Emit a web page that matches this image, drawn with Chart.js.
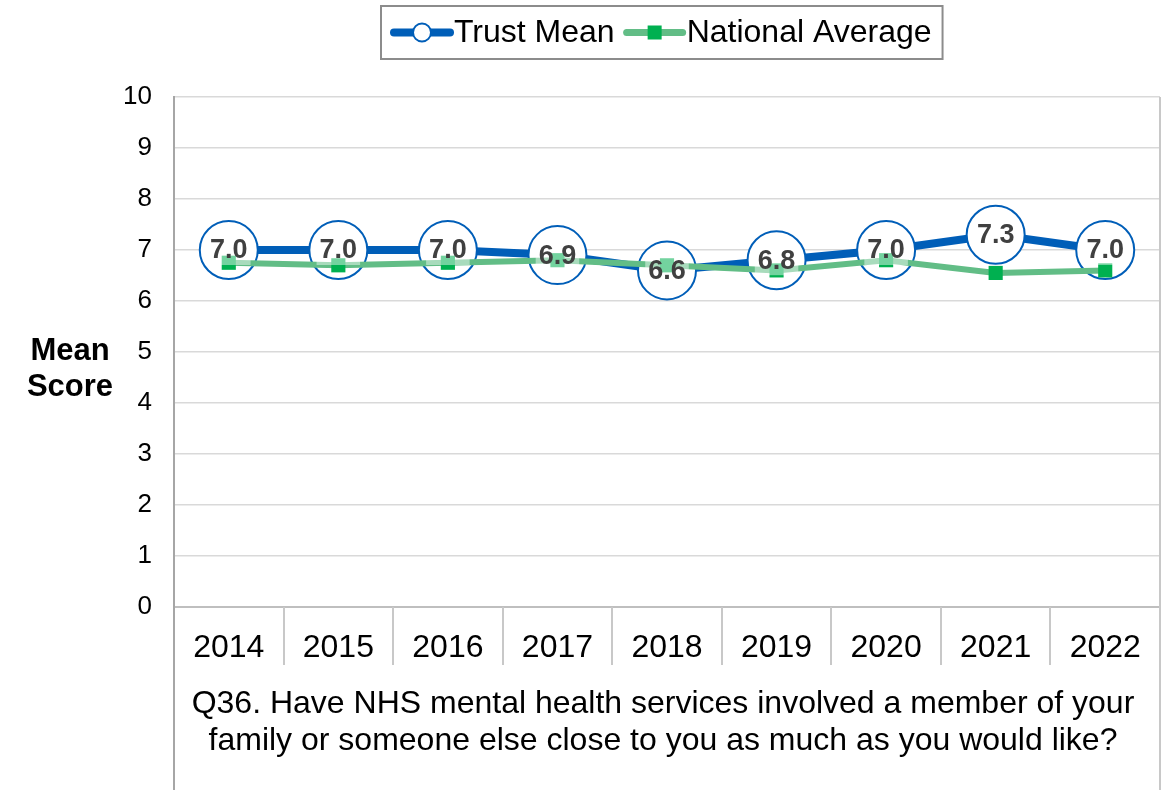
<!DOCTYPE html>
<html>
<head>
<meta charset="utf-8">
<script src="https://cdn.jsdelivr.net/npm/chart.js@4.4.0/dist/chart.umd.min.js"></script>
<style>
  html, body { margin: 0; padding: 0; background: #ffffff; }
  canvas { display: block; }
</style>
</head>
<body>
<canvas id="chart" width="1164" height="790"></canvas>
<script>
// Survey years and mean scores
const years = ['2014', '2015', '2016', '2017', '2018', '2019', '2020', '2021', '2022'];
const trustMean = [7.0, 7.0, 7.0, 6.9, 6.6, 6.8, 7.0, 7.3, 7.0];
const nationalAverage = [6.75, 6.7, 6.75, 6.8, 6.7, 6.6, 6.8, 6.55, 6.6];
const yTickValues = [0, 1, 2, 3, 4, 5, 6, 7, 8, 9, 10];

const seriesNames = ['Trust Mean', 'National Average'];
const yAxisTitle = ['Mean', 'Score'];
const questionText = [
  'Q36. Have NHS mental health services involved a member of your',
  'family or someone else close to you as much as you would like?'
];

const FONT = '"Liberation Sans", Arial, Helvetica, sans-serif';
const BLUE = '#005EB8';
const GREEN_LINE = '#62BD86';
const GREEN_MARK = '#00B050';
const GRID = '#D9D9D9';
const AXIS = '#A6A6A6';

// Axis frame: left/right rules running to the bottom edge, category separators
const framePlugin = {
  id: 'frame',
  beforeDatasetsDraw(chart) {
    const { ctx, chartArea: a, scales: { x } } = chart;
    const H = chart.height;
    ctx.save();
    // category separators below the baseline
    ctx.strokeStyle = '#C8C8C8';
    ctx.lineWidth = 2;
    const step = x.getPixelForValue(1) - x.getPixelForValue(0);
    for (let i = 1; i < years.length; i++) {
      const px = Math.round(x.getPixelForValue(i) - step / 2);
      ctx.beginPath();
      ctx.moveTo(px, a.bottom);
      ctx.lineTo(px, a.bottom + 58);
      ctx.stroke();
    }
    // right border
    ctx.strokeStyle = '#C8C8C8';
    ctx.beginPath();
    ctx.moveTo(a.right, a.top);
    ctx.lineTo(a.right, H);
    ctx.stroke();
    // left axis continued down
    ctx.strokeStyle = AXIS;
    ctx.lineWidth = 2;
    ctx.beginPath();
    ctx.moveTo(a.left, a.top);
    ctx.lineTo(a.left, H);
    ctx.stroke();
    ctx.restore();
  }
};

// Value labels for the Trust Mean series
const valueLabelPlugin = {
  id: 'valueLabels',
  afterDatasetsDraw(chart) {
    const { ctx } = chart;
    const meta = chart.getDatasetMeta(0);
    ctx.save();
    ctx.font = 'bold 27px ' + FONT;
    ctx.textAlign = 'center';
    ctx.textBaseline = 'middle';
    meta.data.forEach((pt, i) => {
      const txt = trustMean[i].toFixed(1);
      const w = ctx.measureText(txt).width;
      ctx.fillStyle = 'rgba(255,255,255,0.45)';
      ctx.fillRect(pt.x - w / 2 - 3, pt.y - 15, w + 6, 30);
      ctx.fillStyle = '#404040';
      ctx.fillText(txt, pt.x, pt.y + 1);
    });
    ctx.restore();
  }
};

// Legend box, y-axis title and question text
const decorPlugin = {
  id: 'decor',
  afterDraw(chart) {
    const { ctx, chartArea: a } = chart;
    ctx.save();
    // legend
    ctx.font = '32px ' + FONT;
    const w1 = ctx.measureText(seriesNames[0]).width;
    const w2 = ctx.measureText(seriesNames[1]).width;
    const sym = 60, gap = 10, padX = 11;
    const total = padX + sym + 2 + w1 + gap + sym + 2 + w2 + padX;
    const cx = 662;
    const bx = Math.round(cx - total / 2), by = 6, bh = 53;
    ctx.strokeStyle = '#8C8C8C';
    ctx.lineWidth = 2;
    ctx.strokeRect(bx, by, total, bh);
    const ly = by + bh / 2;
    let x0 = bx + padX;
    ctx.lineCap = 'round';
    ctx.strokeStyle = BLUE;
    ctx.lineWidth = 8;
    ctx.beginPath(); ctx.moveTo(x0 + 2, ly); ctx.lineTo(x0 + sym - 2, ly); ctx.stroke();
    ctx.lineWidth = 2;
    ctx.fillStyle = '#ffffff';
    ctx.beginPath(); ctx.arc(x0 + sym / 2, ly, 9, 0, Math.PI * 2); ctx.fill(); ctx.stroke();
    ctx.fillStyle = '#000000';
    ctx.textBaseline = 'middle';
    ctx.textAlign = 'left';
    ctx.fillText(seriesNames[0], x0 + sym + 2, ly + 1);
    x0 = x0 + sym + 2 + w1 + gap;
    ctx.strokeStyle = GREEN_LINE;
    ctx.lineWidth = 7;
    ctx.beginPath(); ctx.moveTo(x0 + 2, ly); ctx.lineTo(x0 + sym - 2, ly); ctx.stroke();
    ctx.fillStyle = GREEN_MARK;
    ctx.fillRect(x0 + sym / 2 - 7, ly - 7, 14, 14);
    ctx.fillStyle = '#000000';
    ctx.fillText(seriesNames[1], x0 + sym + 2, ly + 1);

    // y-axis title
    ctx.font = 'bold 31px ' + FONT;
    ctx.textAlign = 'center';
    ctx.fillText(yAxisTitle[0], 70, 351);
    ctx.fillText(yAxisTitle[1], 70, 387);

    // question text under the categories
    ctx.font = '32px ' + FONT;
    const mid = (a.left + a.right) / 2 - 4;
    ctx.fillText(questionText[0], mid, a.bottom + 97);
    ctx.fillText(questionText[1], mid, a.bottom + 134);
    ctx.restore();
  }
};

new Chart(document.getElementById('chart'), {
  type: 'line',
  data: {
    labels: years,
    datasets: [
      {
        label: seriesNames[0],
        data: trustMean,
        order: 2,
        borderColor: BLUE,
        borderWidth: 8,
        tension: 0,
        pointStyle: 'circle',
        pointRadius: 29,
        pointHoverRadius: 29,
        pointBorderWidth: 2,
        pointBorderColor: BLUE,
        pointBackgroundColor: '#ffffff'
      },
      {
        label: seriesNames[1],
        data: nationalAverage,
        order: 1,
        borderColor: GREEN_LINE,
        borderWidth: 6,
        tension: 0,
        pointStyle: 'rect',
        pointRadius: 10,
        pointHoverRadius: 10,
        pointBorderWidth: 0,
        pointBackgroundColor: GREEN_MARK
      }
    ]
  },
  options: {
    responsive: false,
    animation: false,
    devicePixelRatio: 1,
    layout: { autoPadding: false, padding: { top: 97, right: 4, left: 0, bottom: 0 } },
    plugins: {
      legend: { display: false },
      tooltip: { enabled: false }
    },
    scales: {
      y: {
        min: 0,
        max: 10,
        afterBuildTicks(scale) { scale.ticks = yTickValues.map(v => ({ value: v })); },
        afterFit(scale) { scale.width = 174; },
        ticks: {
          font: { family: FONT, size: 26 },
          color: '#000000',
          padding: 22
        },
        grid: { color: GRID, lineWidth: 1.5, drawTicks: false },
        border: { color: AXIS, width: 2 }
      },
      x: {
        offset: true,
        afterFit(scale) {
          scale.height = 183;
          scale.paddingLeft = 0;
          scale.paddingRight = 0;
        },
        ticks: {
          font: { family: FONT, size: 32 },
          color: '#000000',
          padding: 22,
          maxRotation: 0,
          autoSkip: false
        },
        grid: { display: false, drawTicks: false },
        border: { color: '#BFBFBF', width: 2 }
      }
    }
  },
  plugins: [framePlugin, valueLabelPlugin, decorPlugin]
});
</script>
</body>
</html>
